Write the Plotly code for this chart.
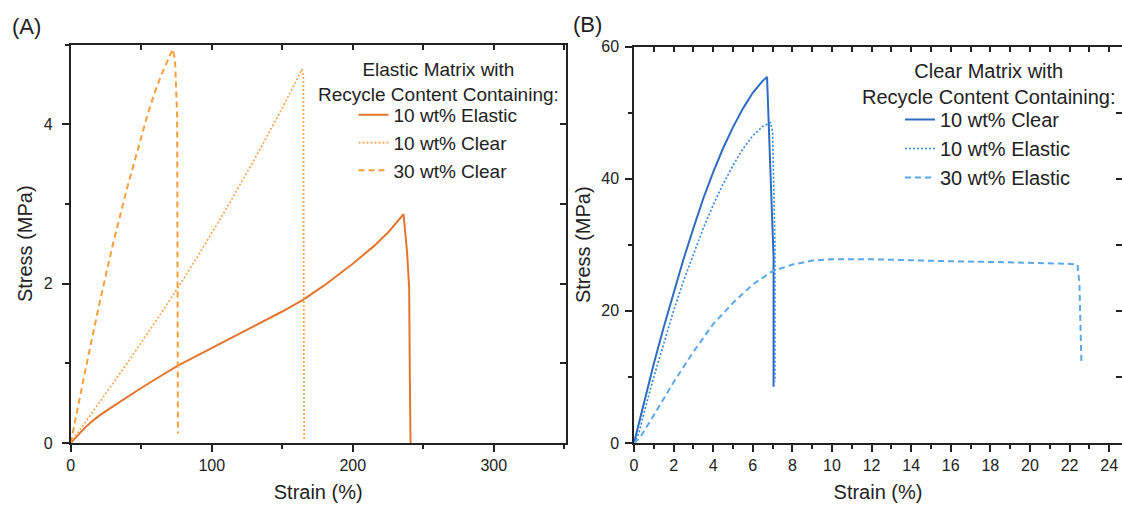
import plotly.graph_objects as go

# ---------------- data ----------------
# Panel A: Elastic matrix
A_el10_x = [0, 5, 10, 15, 20, 30, 40, 50, 60, 76, 90, 100, 115, 130, 150, 165, 180, 200, 215, 225, 236, 238.5, 240, 240.5, 241]
A_el10_y = [0, 0.1, 0.19, 0.27, 0.34, 0.46, 0.58, 0.69, 0.8, 0.97, 1.1, 1.19, 1.33, 1.46, 1.65, 1.8, 1.98, 2.25, 2.47, 2.64, 2.87, 2.4, 1.95, 0.8, 0]

A_cl10_x = [0, 2, 10, 20, 40, 60, 75, 90, 110, 130, 150, 160, 164, 165, 165.5]
A_cl10_y = [0, 0.06, 0.25, 0.5, 1.0, 1.52, 1.92, 2.34, 2.93, 3.55, 4.2, 4.55, 4.69, 4.6, 0.05]

A_cl30_x = [0, 5, 10, 20, 30, 40, 50, 55, 60, 65, 70, 72.5, 74, 75.5, 76]
A_cl30_y = [0, 0.45, 0.88, 1.72, 2.5, 3.2, 3.85, 4.15, 4.42, 4.65, 4.85, 4.94, 4.8, 4.1, 0.12]

# Panel B: Clear matrix
B_cl10_x = [0, 0.5, 1, 1.5, 2, 2.5, 3, 3.5, 4, 4.5, 5, 5.5, 6, 6.5, 6.72, 6.9, 7.05, 7.05]
B_cl10_y = [0, 6, 12, 17.5, 22.8, 27.8, 32.5, 37, 41, 44.6, 47.8, 50.6, 53, 54.8, 55.4, 42, 28, 8.5]

B_el10_x = [0, 0.25, 0.5, 1, 1.5, 2, 2.5, 3, 3.5, 4, 4.5, 5, 5.5, 6, 6.5, 6.9, 7.0, 7.12, 7.12]
B_el10_y = [0, 1.5, 4.5, 10, 15, 20, 24.5, 28.6, 32.5, 36, 39.2, 42, 44.5, 46.5, 47.9, 48.5, 47, 30, 9.3]

B_el30_x = [0, 0.3, 1, 2, 3, 4, 5, 6, 7, 8, 9, 10, 12, 14, 16, 18, 20, 22, 22.4, 22.5, 22.6]
B_el30_y = [0, 0.8, 4.2, 9.2, 13.8, 18.0, 21.2, 24.0, 26.0, 27.0, 27.6, 27.8, 27.8, 27.6, 27.5, 27.4, 27.3, 27.1, 27.0, 24, 12]

A_names = ["10 wt% Elastic", "10 wt% Clear", "30 wt% Clear"]
B_names = ["10 wt% Clear", "10 wt% Elastic", "30 wt% Elastic"]
A_legend_title = "Elastic Matrix with<br>Recycle Content Containing:"
B_legend_title = "Clear Matrix with<br>Recycle Content Containing:"

# ---------------- styling ----------------
FONT = "Liberation Sans, Arial, sans-serif"
AX = "#222222"
W, H = 1122, 507

A_colors = ["#E2762E", "#F6A552", "#F59E3C"]
B_colors = ["#2F6CC0", "#3E88DA", "#5AA8EA"]

fig = go.Figure()

def add(x, y, name, color, dash, width, xa, ya, leg):
    fig.add_trace(go.Scatter(x=x, y=y, name=name, mode="lines",
                             line=dict(color=color, dash=dash, width=width),
                             xaxis=xa, yaxis=ya, legend=leg))

add(A_el10_x, A_el10_y, A_names[0], A_colors[0], "solid", 2.0, "x", "y", "legend")
add(A_cl10_x, A_cl10_y, A_names[1], A_colors[1], "2px,2px", 1.7, "x", "y", "legend")
add(A_cl30_x, A_cl30_y, A_names[2], A_colors[2], "6px,4px", 2.0, "x", "y", "legend")

add(B_cl10_x, B_cl10_y, B_names[0], B_colors[0], "solid", 2.0, "x2", "y2", "legend2")
add(B_el10_x, B_el10_y, B_names[1], B_colors[1], "2px,2px", 1.7, "x2", "y2", "legend2")
add(B_el30_x, B_el30_y, B_names[2], B_colors[2], "6px,4px", 2.0, "x2", "y2", "legend2")

# helper traces for mirrored (inside) ticks
fig.add_trace(go.Scatter(x=[None], y=[None], xaxis="x3", yaxis="y3", showlegend=False, hoverinfo="skip"))
fig.add_trace(go.Scatter(x=[None], y=[None], xaxis="x4", yaxis="y4", showlegend=False, hoverinfo="skip"))

A_xr = [0, 351]
A_yr = [0, 5]
B_xr = [0, 24.65]
B_yr = [0, 60]

A_xdom = [70.7 / W, 565.7 / W]
A_ydom = [(H - 443) / H, (H - 44.5) / H]
B_xdom = [634 / W, 1.0]
B_ydom = [(H - 443) / H, (H - 46.5) / H]

tickfont = dict(family=FONT, size=16, color="#222")
titlefont = dict(family=FONT, size=20, color="#222")

def main_x(rng, dom, dtick, mdt, anchor):
    return dict(range=rng, domain=dom, anchor=anchor, showgrid=False, zeroline=False,
                showline=True, linecolor=AX, linewidth=1.5, ticks="outside", ticklen=7,
                tickwidth=1.5, tickcolor=AX, dtick=dtick, tick0=0, tickfont=tickfont,
                minor=dict(dtick=mdt, tick0=0, ticks="outside", ticklen=4, tickwidth=1.5, tickcolor=AX, showgrid=False),
                title=dict(text="Strain (%)", font=titlefont, standoff=12))

def main_y(rng, dom, dtick, mdt, anchor, standoff, lblstand):
    return dict(range=rng, domain=dom, anchor=anchor, showgrid=False, zeroline=False,
                showline=True, linecolor=AX, linewidth=1.5, ticks="outside", ticklen=7,
                tickwidth=1.5, tickcolor=AX, dtick=dtick, tick0=0, tickfont=tickfont,
                ticklabelstandoff=lblstand,
                minor=dict(dtick=mdt, tick0=0, ticks="outside", ticklen=4, tickwidth=1.5, tickcolor=AX, showgrid=False),
                title=dict(text="Stress (MPa)", font=titlefont, standoff=standoff))

def mirror_x(rng, over, anchor, dtick):
    return dict(range=rng, overlaying=over, anchor=anchor, side="top", showgrid=False, zeroline=False,
                showline=True, linecolor=AX, linewidth=1.5, ticks="inside", ticklen=6, tickwidth=1.5,
                tickcolor=AX, dtick=dtick, tick0=0, showticklabels=False)

def mirror_y(rng, over, anchor, dtick):
    return dict(range=rng, overlaying=over, anchor=anchor, side="right", showgrid=False, zeroline=False,
                showline=True, linecolor=AX, linewidth=1.5, ticks="inside", ticklen=6, tickwidth=1.5,
                tickcolor=AX, dtick=dtick, tick0=0, showticklabels=False)

fig.update_layout(
    width=W, height=H,
    margin=dict(l=0, r=0, t=0, b=0, autoexpand=False),
    paper_bgcolor="white", plot_bgcolor="white",
    font=dict(family=FONT, color="#222"),
    xaxis=main_x(A_xr, A_xdom, 100, 50, "y"),
    yaxis=main_y(A_yr, A_ydom, 2, 1, "x", 6, 6),
    xaxis2=main_x(B_xr, B_xdom, 2, 1, "y2"),
    yaxis2=main_y(B_yr, B_ydom, 20, 10, "x2", 5, 3),
    xaxis3=mirror_x(A_xr, "x", "y", 50),
    yaxis3=mirror_y(A_yr, "y", "x", 1),
    xaxis4=mirror_x(B_xr, "x2", "y2", 1),
    yaxis4=mirror_y(B_yr, "y2", "x2", 10),
    legend=dict(font=dict(family=FONT, size=19, color="#222"),
                x=438 / W, xanchor="center", y=(H - 96) / H, yanchor="top",
                bgcolor="rgba(0,0,0,0)", borderwidth=0, tracegroupgap=0),
    legend2=dict(font=dict(family=FONT, size=20, color="#222"),
                 x=988 / W, xanchor="center", y=(H - 100) / H, yanchor="top",
                 bgcolor="rgba(0,0,0,0)", borderwidth=0, tracegroupgap=0),
    annotations=[
        dict(text="(A)", x=26 / W, y=(H - 26) / H, xref="paper", yref="paper", showarrow=False,
             xanchor="center", yanchor="middle", font=dict(family=FONT, size=22, color="#222")),
        dict(text="(B)", x=587 / W, y=(H - 24) / H, xref="paper", yref="paper", showarrow=False,
             xanchor="center", yanchor="middle", font=dict(family=FONT, size=22, color="#222")),
        dict(text=A_legend_title, x=438 / W, y=(H - 82) / H, xref="paper", yref="paper", showarrow=False,
             xanchor="center", yanchor="middle", align="center",
             font=dict(family=FONT, size=19, color="#222")),
        dict(text=B_legend_title, x=988 / W, y=(H - 84) / H, xref="paper", yref="paper", showarrow=False,
             xanchor="center", yanchor="middle", align="center",
             font=dict(family=FONT, size=20, color="#222")),
    ],
    showlegend=True,
)

fig.write_html("out.html")
